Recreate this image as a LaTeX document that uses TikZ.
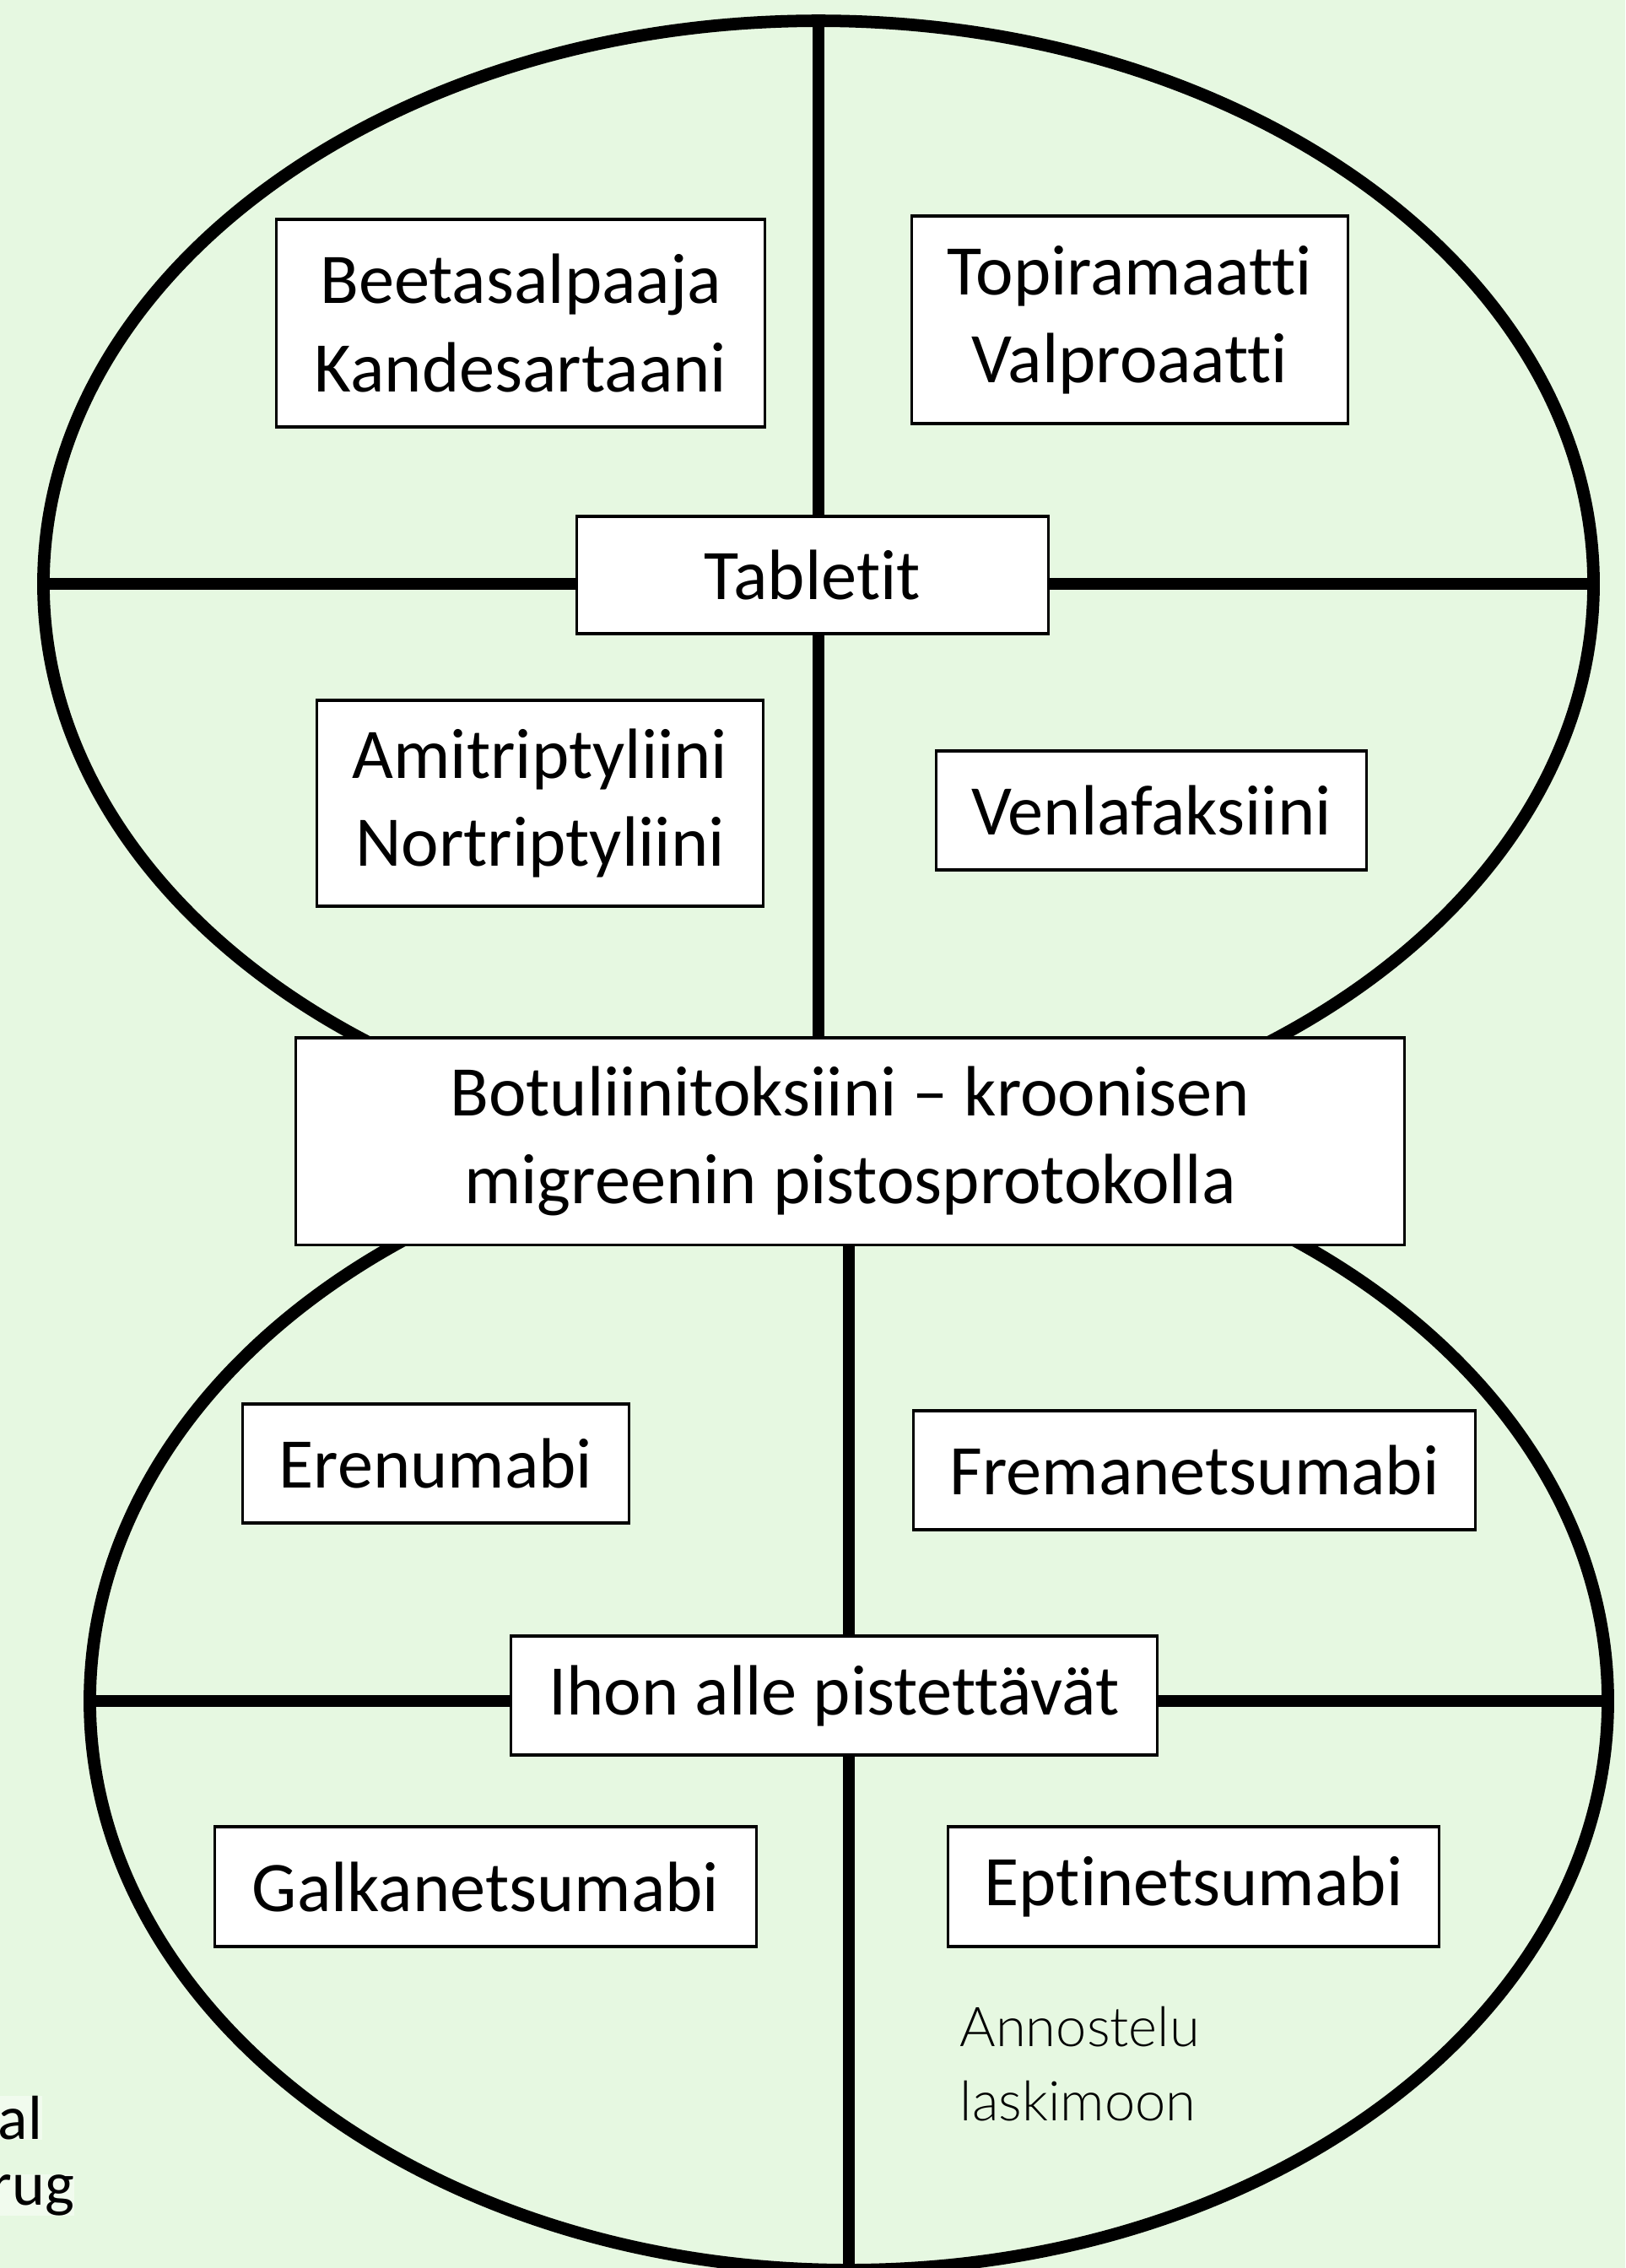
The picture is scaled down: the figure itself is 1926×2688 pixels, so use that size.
\documentclass[tikz,border=0pt]{standalone}
\usepackage{fontspec}
\setmainfont{Carlito}[Ligatures=NoCommon]
\IfFontExistsTF{Lato Light}{\newfontfamily\notefont{Lato Light}}{\newfontfamily\notefont{Lato}}
\definecolor{bg}{HTML}{E6F8E1}

\begin{document}
\begin{tikzpicture}[x=0.01cm,y=-0.01cm,
  divider/.style={line width=4.2pt, black},
  drug/.style={draw=black, line width=0.9pt, fill=white, inner sep=0pt,
    align=center, font=\fontsize{24}{29.6}\selectfont},
  note/.style={inner sep=0pt, font=\notefont\fontsize{18.5}{22}\selectfont},
  stub/.style={inner sep=0pt, fill=white!45!bg, font=\fontsize{21}{25}\selectfont},
]
% page and background
\fill[bg] (0,0) rectangle (1926,2688);
\useasboundingbox (0,0) rectangle (1926,2688);

% the two ovals
\draw[divider] (970,692) ellipse [x radius=9.18cm, y radius=6.67cm];
\draw[divider] (1006,2016) ellipse [x radius=8.99cm, y radius=6.74cm];

% end points of the dividing lines on the ovals
\coordinate (ttop) at (970,25);
\coordinate (tleft) at (52,692);
\coordinate (tright) at (1887,692);
\coordinate (bbot) at (1006,2692);
\coordinate (bleft) at (107,2016);
\coordinate (bright) at (1905,2016);

% central box (placed first so the dividers can refer to it)
\node[drug, minimum width=13.13cm, minimum height=2.45cm]
  (botu) at (1007.5,1352.5) {Botuliinitoksiini -- kroonisen\\migreenin pistosprotokolla};

% dividers
\draw[divider] (ttop) -- (ttop |- botu.north);
\draw[divider] (tleft) -- (tright);
\draw[divider] (botu.south -| bbot) -- (bbot);
\draw[divider] (bleft) -- (bright);

% redraw the central box on top of the ovals
\node[drug, minimum width=13.13cm, minimum height=2.45cm]
  at (botu) {Botuliinitoksiini -- kroonisen\\migreenin pistosprotokolla};

% upper oval: tablets
\node[drug, minimum width=5.78cm, minimum height=2.46cm] (beta) at (617,383) {Beetasalpaaja\\Kandesartaani};
\node[drug, minimum width=5.16cm, minimum height=2.46cm] (topi) at (1339,379) {Topiramaatti\\Valproaatti};
\node[drug, minimum width=5.58cm, minimum height=1.39cm] (tabl) at (963,681.5) {Tabletit};
\node[drug, minimum width=5.28cm, minimum height=2.44cm] (ami) at (640,952) {Amitriptyliini\\Nortriptyliini};
\node[drug, minimum width=5.09cm, minimum height=1.41cm] (venla) at (1364.5,960.5) {Venlafaksiini};

% lower oval: subcutaneous
\node[drug, minimum width=4.57cm, minimum height=1.41cm] (eren) at (516.5,1734.5) {Erenumabi};
\node[drug, minimum width=6.65cm, minimum height=1.41cm] (frem) at (1415.5,1742.5) {Fremanetsumabi};
\node[drug, minimum width=7.65cm, minimum height=1.41cm] (ihon) at (988.5,2009.5) {Ihon alle pistettävät};
\node[drug, minimum width=6.41cm, minimum height=1.42cm] (galk) at (575.5,2236) {Galkanetsumabi};
\node[drug, minimum width=5.81cm, minimum height=1.42cm] (epti) at (1414.5,2236) {Eptinetsumabi};

% note under Eptinetsumabi
\node[note, anchor=base west] (anno1) at (1137,2425) {Annostelu};
\node[note, anchor=base west] (anno2) at (1137,2513) {laskimoon};

% text cut off at the left edge
\node[stub, anchor=base east] (stub1) at (51,2535) {al};
\node[stub, anchor=base east] (stub2) at (89,2613) {rug};
\end{tikzpicture}
\end{document}
